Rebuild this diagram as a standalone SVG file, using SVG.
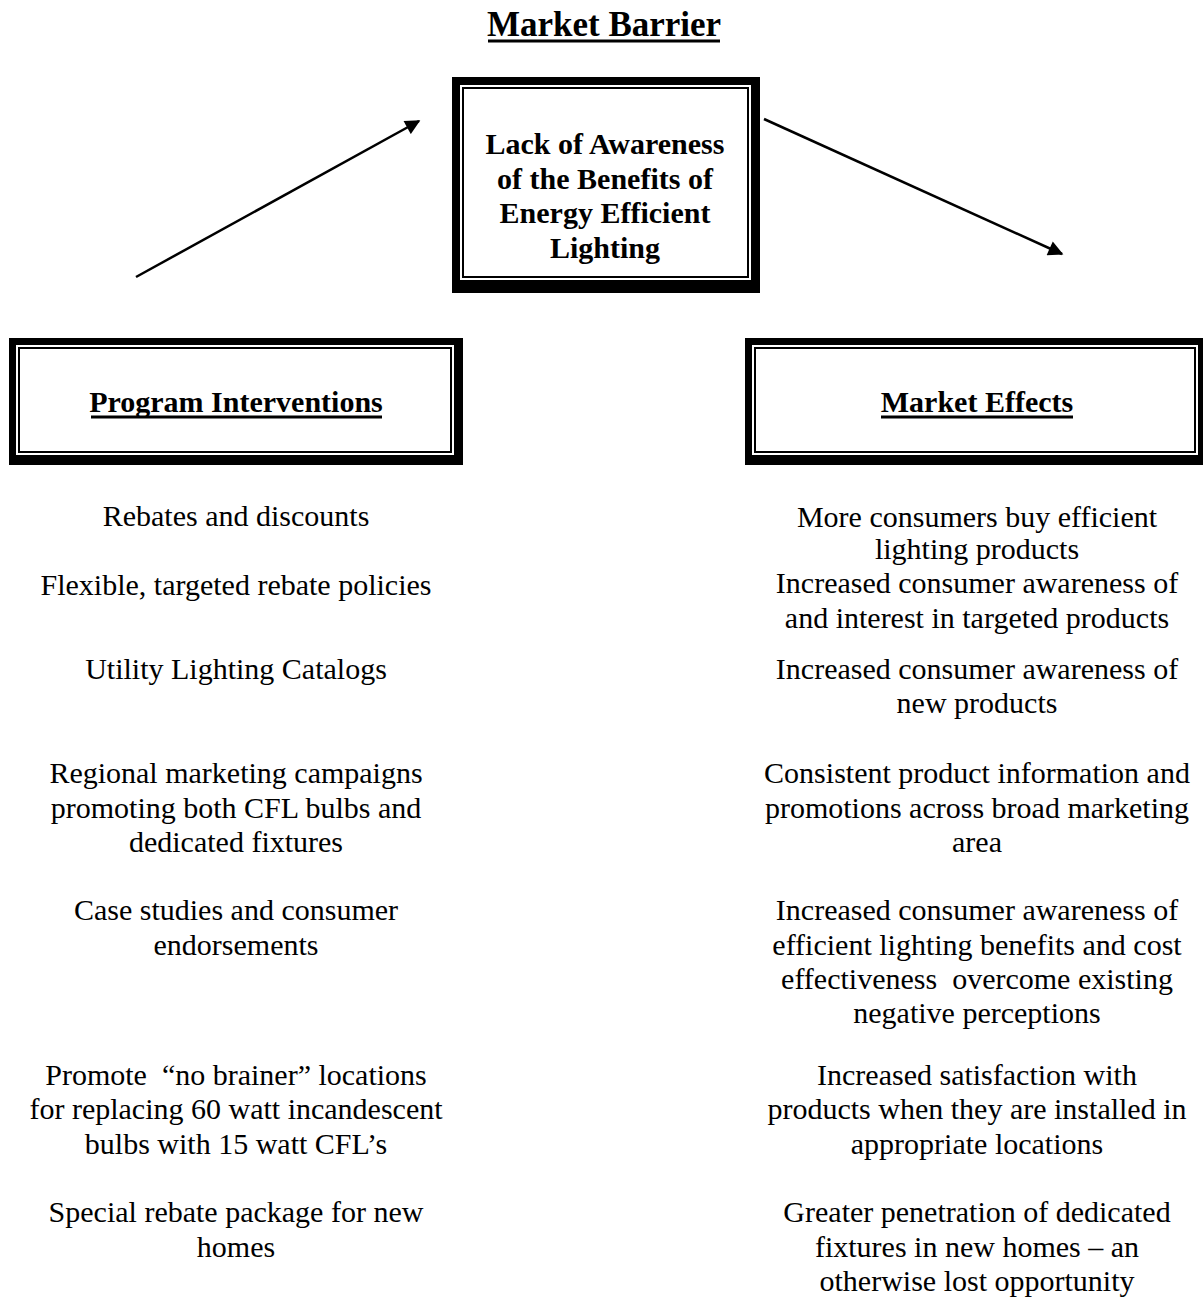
<svg xmlns="http://www.w3.org/2000/svg" width="1203" height="1305" viewBox="0 0 1203 1305">
  <style>
    text { font-family: "Liberation Serif", "Times New Roman", serif; fill: #000; }
    .title { font-size: 35px; font-weight: bold; text-anchor: middle; }
    .head { font-size: 30px; font-weight: bold; text-anchor: middle; }
    .body { font-size: 30px; text-anchor: middle; }
    .frame { fill: #000; }
    .inner { fill: #fff; }
    .rule { fill: none; stroke: #000; stroke-width: 2; }
    .uline { stroke: #000; stroke-width: 3; }
    .conn { stroke: #000; stroke-width: 2.5; fill: none; }
  </style>
  <defs>
    <marker id="arrow" viewBox="0 0 10 10" refX="9" refY="5" markerWidth="7" markerHeight="6" markerUnits="strokeWidth" orient="auto">
      <path d="M0,0 L10,5 L0,10 Z" fill="#000"/>
    </marker>
  </defs>

  <rect width="1203" height="1305" fill="#fff"/>

  <!-- Heading -->
  <g id="title">
    <text class="title" x="604" y="36">Market Barrier</text>
    <line class="uline" x1="488" y1="41" x2="720" y2="41"/>
  </g>

  <!-- Barrier box -->
  <g id="barrier">
    <rect class="frame" x="452" y="77" width="308" height="216"/>
    <rect class="inner" x="460" y="85" width="291" height="195"/>
    <rect class="rule" x="463" y="88" width="285" height="189"/>
    <text class="head" x="605" y="154">Lack of Awareness</text>
    <text class="head" x="605" y="189">of the Benefits of</text>
    <text class="head" x="605" y="223">Energy Efficient</text>
    <text class="head" x="605" y="258">Lighting</text>
  </g>

  <!-- Program interventions box -->
  <g id="interventions">
    <rect class="frame" x="9" y="338" width="454" height="127"/>
    <rect class="inner" x="16" y="345" width="438" height="110"/>
    <rect class="rule" x="19" y="348" width="432" height="104"/>
    <text class="head" x="236" y="412">Program Interventions</text>
    <line class="uline" x1="91" y1="417" x2="382" y2="417"/>
  </g>

  <!-- Market effects box -->
  <g id="effects">
    <rect class="frame" x="745" y="338" width="470" height="127"/>
    <rect class="inner" x="752" y="345" width="446" height="110"/>
    <rect class="rule" x="755" y="348" width="440" height="104"/>
    <text class="head" x="977" y="412">Market Effects</text>
    <line class="uline" x1="881" y1="417" x2="1073" y2="417"/>
  </g>

  <!-- Connectors -->
  <g id="connectors">
    <line class="conn" x1="136" y1="277" x2="419" y2="121" marker-end="url(#arrow)"/>
    <line class="conn" x1="764" y1="119" x2="1062" y2="254" marker-end="url(#arrow)"/>
  </g>

  <!-- Intervention list -->
  <g id="intervention-list">
    <text class="body" x="236" y="526">Rebates and discounts</text>
    <text class="body" x="236" y="595">Flexible, targeted rebate policies</text>
    <text class="body" x="236" y="679">Utility Lighting Catalogs</text>
    <text class="body" x="236" y="783">Regional marketing campaigns</text>
    <text class="body" x="236" y="818">promoting both CFL bulbs and</text>
    <text class="body" x="236" y="852">dedicated fixtures</text>
    <text class="body" x="236" y="920">Case studies and consumer</text>
    <text class="body" x="236" y="955">endorsements</text>
    <text class="body" x="236" y="1085" xml:space="preserve">Promote  “no brainer” locations</text>
    <text class="body" x="236" y="1119">for replacing 60 watt incandescent</text>
    <text class="body" x="236" y="1154">bulbs with 15 watt CFL’s</text>
    <text class="body" x="236" y="1222">Special rebate package for new</text>
    <text class="body" x="236" y="1257">homes</text>
  </g>

  <!-- Effects list -->
  <g id="effects-list">
    <text class="body" x="977" y="527">More consumers buy efficient</text>
    <text class="body" x="977" y="559">lighting products</text>
    <text class="body" x="977" y="593">Increased consumer awareness of</text>
    <text class="body" x="977" y="628">and interest in targeted products</text>
    <text class="body" x="977" y="679">Increased consumer awareness of</text>
    <text class="body" x="977" y="713">new products</text>
    <text class="body" x="977" y="783">Consistent product information and</text>
    <text class="body" x="977" y="818">promotions across broad marketing</text>
    <text class="body" x="977" y="852">area</text>
    <text class="body" x="977" y="920">Increased consumer awareness of</text>
    <text class="body" x="977" y="955">efficient lighting benefits and cost</text>
    <text class="body" x="977" y="989" xml:space="preserve">effectiveness  overcome existing</text>
    <text class="body" x="977" y="1023">negative perceptions</text>
    <text class="body" x="977" y="1085">Increased satisfaction with</text>
    <text class="body" x="977" y="1119">products when they are installed in</text>
    <text class="body" x="977" y="1154">appropriate locations</text>
    <text class="body" x="977" y="1222">Greater penetration of dedicated</text>
    <text class="body" x="977" y="1257">fixtures in new homes – an</text>
    <text class="body" x="977" y="1291">otherwise lost opportunity</text>
  </g>
</svg>
